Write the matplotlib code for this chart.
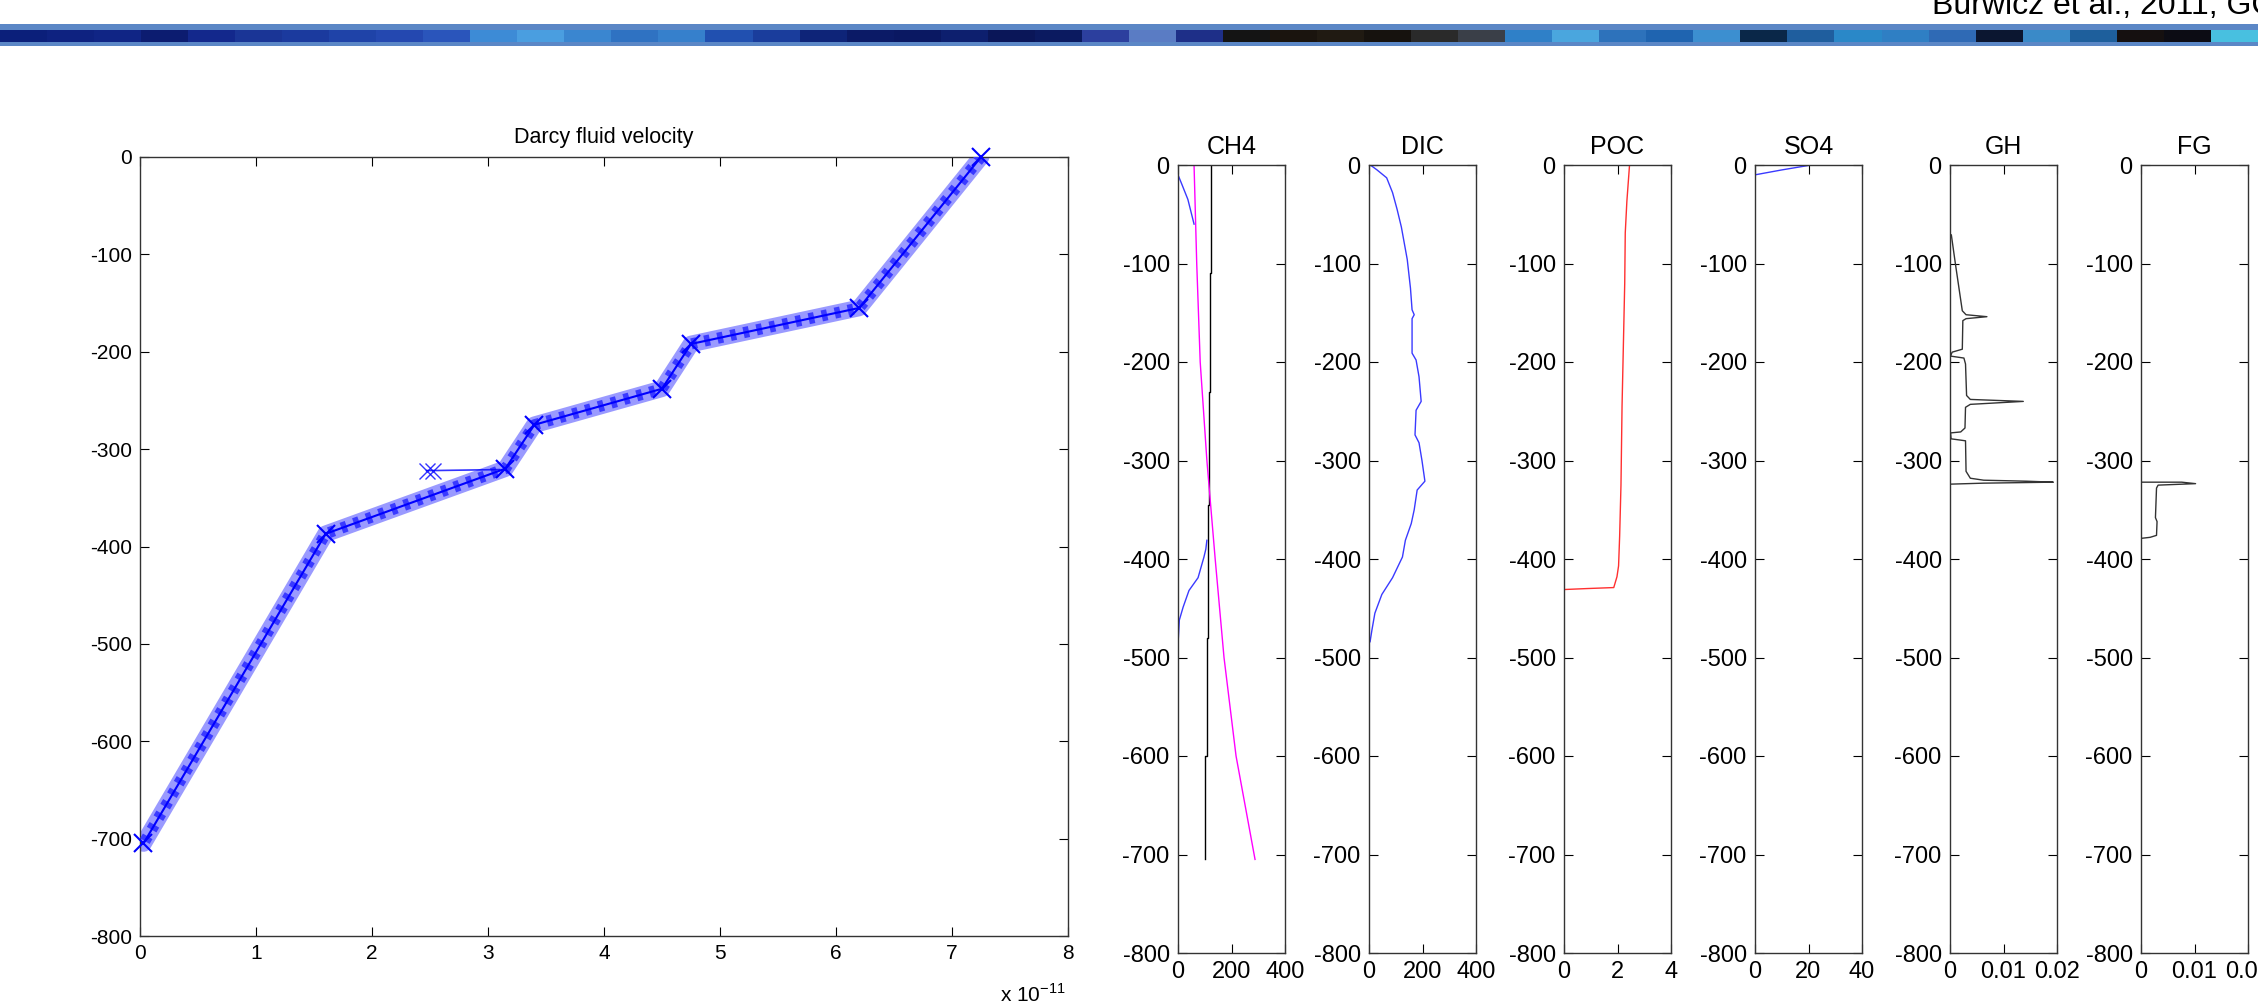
import matplotlib
matplotlib.use('Agg')
import matplotlib.pyplot as plt
import numpy as np

plt.rcParams['font.family'] = ['Liberation Sans', 'DejaVu Sans']
plt.rcParams['axes.unicode_minus'] = False

# Darcy fluid velocity profile (x in 1e-11, depth in m)
darcy_v = [7.25, 6.2, 4.75, 4.5, 3.4, 3.15, 1.6, 0.03]
darcy_z = [0, -155, -192, -238, -275, -320, -387, -705]
spur_v = [3.1, 2.53, 2.47]
spur_z = [-321, -322, -322]

# CH4 panel
ch4_black_x = [125, 125, 121, 121, 116, 116, 112, 112, 108, 108, 102, 102]
ch4_black_z = [0, -110, -110, -230, -230, -345, -345, -480, -480, -600, -600, -705]
ch4_mag_x = [60, 70, 83, 108, 139, 172, 217, 288]
ch4_mag_z = [0, -100, -200, -300, -400, -500, -600, -705]
ch4_top_x = [0, 15, 37, 60]
ch4_top_z = [-10, -20, -35, -60]
ch4_low_x = [108, 104, 97, 75, 41, 19, 5, 1]
ch4_low_z = [-381, -390, -398, -419, -432, -449, -462, -482]

# DIC panel
dic_x = [5, 30, 66, 88, 105, 121, 143, 155, 161, 169, 161, 161, 176, 187, 195, 176,
         172, 187, 198, 209, 180, 169, 158, 136, 125, 88, 48, 22, 11, 4]
dic_z = [0, -5, -13, -28, -45, -63, -96, -125, -147, -152, -156, -191, -198, -215, -240, -249,
         -274, -282, -300, -321, -330, -350, -364, -381, -398, -419, -436, -455, -472, -484]

# POC panel
poc_x = [2.45, 2.35, 2.29, 2.27, 2.23, 2.17, 2.13, 2.08, 2.04, 1.98, 1.86, 0.87, 0]
poc_z = [0, -37, -69, -120, -170, -245, -325, -377, -407, -418, -429, -430, -431]

# SO4 panel
so4_x = [0, 10, 21]
so4_z = [-10, -5, 0]

# GH panel
gh_x = [0.00025, 0.001, 0.0023, 0.003, 0.0069, 0.003, 0.0024, 0.0023, 0.0004, 0.0001, 0.0026,
        0.0029, 0.0031, 0.0038, 0.0137, 0.0038, 0.0029, 0.0028, 0.002, 0.0001, 0.0002, 0.0029,
        0.003, 0.0038, 0.0063, 0.0143, 0.0193, 0.0063, 0.0001]
gh_z = [-71, -100, -148, -152, -154, -156, -158, -187, -190, -194, -196,
        -202, -234, -238, -240, -243, -246, -267, -271, -272, -278, -280,
        -311, -318, -320, -321, -322, -323, -324]

# FG panel
fg_x = [0, 0.0076, 0.0102, 0.0032, 0.0029, 0.0027, 0.003, 0.0029, 0.0017, 0.0001]
fg_z = [-322, -322, -323.5, -325, -328, -358, -362, -376, -378, -379]

panel_titles = ['CH4', 'DIC', 'POC', 'SO4', 'GH', 'FG']
panel_xlims = [(0, 400), (0, 400), (0, 4), (0, 40), (0, 0.02), (0, 0.02)]
panel_xticks = [[0, 200, 400], [0, 200, 400], [0, 2, 4], [0, 20, 40],
                [0, 0.01, 0.02], [0, 0.01, 0.02]]
panel_xticklabels = [['0', '200', '400'], ['0', '200', '400'], ['0', '2', '4'],
                     ['0', '20', '40'], ['0', '0.01', '0.02'], ['0', '0.01', '0.02']]
panel_lefts = [1178, 1369, 1564, 1755, 1950, 2141]

# banner block colours (decorative strip at the top)
banner_colors = ['#0b1f7a', '#0e2280', '#102585', '#0c1c70', '#13288c', '#1a3596', '#1b3a9e',
                 '#1f43a8', '#2448b0', '#2a55bb', '#3d8bd6', '#4a9ee0', '#3a86d0', '#2f72c2',
                 '#3680cc', '#2150b0', '#1a3d9c', '#0e2478', '#0b1a66', '#0a1862', '#0d1f6e',
                 '#0a1658', '#0b1a60', '#2c3f9e', '#5a7cc4', '#1e2f88', '#141414', '#1a140e',
                 '#201a12', '#16120e', '#2a2a2a', '#3a3f48', '#2f80c8', '#4aa6de', '#2d72bb',
                 '#1f64b0', '#3c8fd0', '#0a2748', '#1f5e9e', '#2a88c8', '#2f7fc4', '#2f6ab5',
                 '#0b1630', '#3a8ac8', '#1e5f9c', '#151010', '#0c0c14', '#48c0e0']

W, H = 2258, 1008
fig = plt.figure(figsize=(W / 100, H / 100), dpi=100)


def frac(x0, y_top, w, h):
    return [x0 / W, 1 - (y_top + h) / H, w / W, h / H]


# banner
bax = fig.add_axes(frac(0, 24, W, 22))
bax.set_facecolor('#5b87c6')
bax.set_xticks([])
bax.set_yticks([])
for s in bax.spines.values():
    s.set_visible(False)
iax = fig.add_axes(frac(0, 30, W, 12))
rgb = np.array([[matplotlib.colors.to_rgb(c) for c in banner_colors]])
iax.imshow(rgb, aspect='auto', interpolation='nearest')
iax.axis('off')

fig.text(1932 / W, 1 - 14 / H, 'Burwicz et al., 2011, GCA', fontsize=23,
         family=['Liberation Sans Narrow', 'Liberation Sans', 'DejaVu Sans'],
         ha='left', va='baseline', color='black')


def matlab_style(ax, labelsize):
    ax.tick_params(direction='in', top=True, right=True, length=6.5, width=0.8,
                   labelsize=labelsize, pad=6, colors='black')
    for s in ax.spines.values():
        s.set_color('#333333')
        s.set_linewidth(1.0)


# left: Darcy fluid velocity
ax = fig.add_axes(frac(140, 157, 928, 779))
ax.plot(darcy_v, darcy_z, color='#9a9aff', lw=12, solid_capstyle='round', zorder=2)
ax.plot(darcy_v, darcy_z, color='#3a3aff', lw=8, linestyle=(0, (0.5, 0.7)), zorder=3)
ax.plot(darcy_v, darcy_z, color='blue', lw=1.5, marker='x', ms=13, mew=1.5,
        clip_on=False, zorder=4)
ax.plot(spur_v, spur_z, color='blue', lw=1.2, marker='x', ms=11, mew=1.0,
        markevery=[1, 2], alpha=0.8, zorder=4)
ax.set_xlim(0, 8)
ax.set_ylim(-800, 0)
ax.set_xticks(range(0, 9))
ax.set_yticks(range(-800, 1, 100))
matlab_style(ax, 15)
ax.set_title('Darcy fluid velocity', fontsize=15.5, pad=10)
ax.text(0.997, -0.085, r'x 10$^{\mathregular{-11}}$', transform=ax.transAxes,
        ha='right', va='baseline', fontsize=15)

# right: six depth profiles
panel_lines = [
    [(ch4_black_x, ch4_black_z, 'black'), (ch4_mag_x, ch4_mag_z, 'magenta'),
     (ch4_top_x, ch4_top_z, '#3a3aff'), (ch4_low_x, ch4_low_z, '#3a3aff')],
    [(dic_x, dic_z, '#3a3aff')],
    [(poc_x, poc_z, '#ff3030')],
    [(so4_x, so4_z, '#3a3aff')],
    [(gh_x, gh_z, '#333333')],
    [(fg_x, fg_z, '#333333')],
]

for i, left in enumerate(panel_lefts):
    pax = fig.add_axes(frac(left, 165, 107, 788))
    for xs, zs, c in panel_lines[i]:
        pax.plot(xs, zs, color=c, lw=1.0)
    pax.set_xlim(*panel_xlims[i])
    pax.set_ylim(-800, 0)
    pax.set_xticks(panel_xticks[i])
    pax.set_xticklabels(panel_xticklabels[i])
    pax.set_yticks(range(-800, 1, 100))
    matlab_style(pax, 17)
    pax.set_title(panel_titles[i], fontsize=18, pad=8)

fig.savefig('out.png', dpi=100)
